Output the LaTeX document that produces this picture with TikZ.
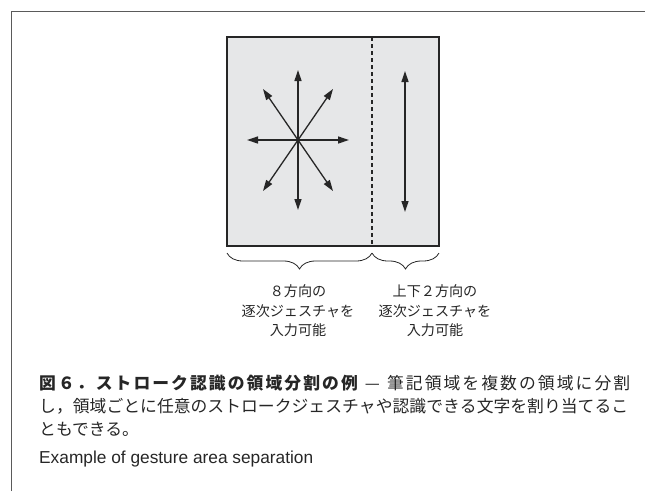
\documentclass[tikz,border=0pt]{standalone}
\usepackage{fontspec}
\usetikzlibrary{arrows.meta,decorations.pathreplacing}
\newfontfamily\jp{Noto Sans CJK JP}
\newfontfamily\en{Liberation Sans}
\definecolor{framecol}{HTML}{5A5A5A}
\definecolor{boxfill}{HTML}{E6E7E8}
\definecolor{ink}{HTML}{262626}
\makeatletter
\newcommand\spr[1]{\@tfor\@ch:=#1\do{\@ch\hfil}}
\makeatother
\tikzset{
  x=1pt, y=-1pt,
  frameline/.style={draw=framecol, line width=1.3pt},
  areabox/.style={draw=ink, fill=boxfill, line width=1.4pt},
  divider/.style={draw=ink, line width=1.1pt, dash pattern=on 4pt off 3pt},
  arr/.style={draw=ink, line width=1.3pt, {Triangle[length=11pt,width=7pt]}-{Triangle[length=11pt,width=7pt]}},
  bracestyle/.style={draw=ink, line width=0.8pt, decorate, decoration={brace, mirror, amplitude=16pt}},
  labeltext/.style={text=ink, align=center, inner sep=0pt, font=\jp\fontsize{14.1}{19.5}\selectfont},
  captext/.style={text=ink, anchor=west, inner sep=0pt, font=\jp\fontsize{16.8}{22}\selectfont},
}
\begin{document}
\begin{tikzpicture}
\useasboundingbox (0,0) rectangle (645,491);
% frame
\coordinate (fbl) at (11.5,491);
\coordinate (ftl) at (11.5,11.5);
\coordinate (ftr) at (645,11.5);
\draw[frameline] (fbl) -- (ftl) -- (ftr);
% area box
\coordinate (btl) at (227,37);
\coordinate (bbr) at (439,246);
\draw[areabox] (btl) rectangle (bbr);
\coordinate (dtop) at (372,37);
\coordinate (dbot) at (372,246);
\draw[divider] (dtop) -- (dbot);
% star of 8 arrows
\coordinate (c) at (298,140);
\coordinate (n) at (298,70);
\coordinate (s) at (298,210);
\coordinate (w) at (247,140);
\coordinate (e) at (349,140);
\coordinate (nw) at (263,89);
\coordinate (se) at (333,191);
\coordinate (ne) at (333,89);
\coordinate (sw) at (263,191);
\draw[arr] (n) -- (s);
\draw[arr] (w) -- (e);
\draw[arr] (nw) -- (se);
\draw[arr] (ne) -- (sw);
% vertical arrow
\coordinate (vn) at (405,71);
\coordinate (vs) at (405,212);
\draw[arr] (vn) -- (vs);
% braces
\coordinate (b1) at (227,253);
\coordinate (b2) at (372,253);
\coordinate (b3) at (439,253);
\draw[bracestyle] (b1) -- (b2);
\draw[bracestyle] (b2) -- (b3);
% labels
\node[labeltext] (l1) at (298,311) {８方向の\\逐次ジェスチャを\\入力可能};
\node[labeltext] (l2) at (435,311) {上下２方向の\\逐次ジェスチャを\\入力可能};
% caption
\node[captext] (c1) at (39,383) {\makebox[591pt][s]{{\bfseries\spr{図６．ストローク認識の領域分割の例}}\hskip0.3em—\hfil\hskip0.3em\spr{筆記領域を複数の領域に分割}\unskip}};
\node[captext] (c2) at (39,406) {\makebox[589pt][s]{\spr{し，領域ごとに任意のストロークジェスチャや認識できる文字を割り当てるこ}\unskip}};
\node[captext] (c3) at (39,429) {ともできる。};
\node[text=ink, anchor=west, inner sep=0pt, font=\en\fontsize{17.3}{20}\selectfont] (c4) at (39,459) {Example of gesture area separation};
\end{tikzpicture}
\end{document}
